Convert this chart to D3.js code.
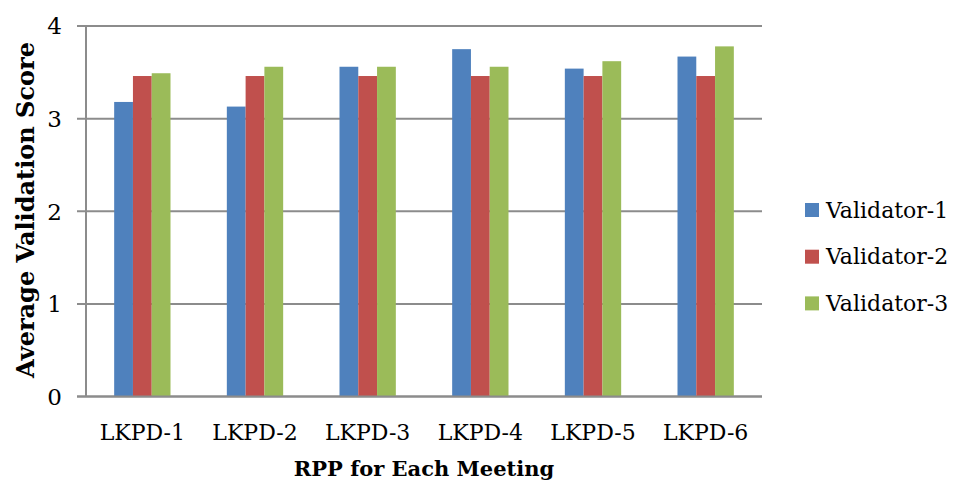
<!DOCTYPE html>
<html><head><meta charset="utf-8">
<script src="https://cdn.jsdelivr.net/npm/d3@7"></script>
<style>body{margin:0;background:#fff;} text{font-family:"DejaVu Serif","Liberation Serif",serif;}</style>
</head><body><svg id="c" width="956" height="484"></svg>
<script>
const categories = ["LKPD-1","LKPD-2","LKPD-3","LKPD-4","LKPD-5","LKPD-6"];
const seriesNames = ["Validator-1","Validator-2","Validator-3"];
const validator1 = [3.18,3.13,3.56,3.75,3.54,3.67];
const validator2 = [3.46,3.46,3.46,3.46,3.46,3.46];
const validator3 = [3.49,3.56,3.56,3.56,3.62,3.78];
const yTicks = [0,1,2,3,4];
const colors = ["#4f81bd","#c0504d","#9bbb59"];
const series = [validator1, validator2, validator3];

(function(){
const svg = d3.select("#c");
const pL = 86, pR = 762, pT = 26, pB = 396.5;
const x = d3.scaleBand().domain(categories).range([pL, pR]).paddingInner(0.5).paddingOuter(0.25);
const xs = d3.scaleBand().domain(seriesNames).range([0, x.bandwidth()]);
const y = d3.scaleLinear().domain([0,4]).range([pB, pT]);

svg.append("g").selectAll("line").data(yTicks).join("line")
  .attr("x1", 77).attr("x2", pR).attr("y1", d=>y(d)).attr("y2", d=>y(d))
  .attr("stroke", "#8c8c8c").attr("stroke-width", 2);
svg.append("line").attr("x1", pL).attr("x2", pL).attr("y1", pT).attr("y2", pB)
  .attr("stroke", "#8c8c8c").attr("stroke-width", 2);

series.forEach((vals, si) => {
  svg.append("g").selectAll("rect").data(vals).join("rect")
    .attr("x", (d,i)=> x(categories[i]) + xs(seriesNames[si]))
    .attr("width", xs.bandwidth())
    .attr("y", d=>y(d)).attr("height", d=>y(0)-y(d))
    .attr("fill", colors[si]);
});
svg.append("line").attr("x1", 77).attr("x2", pR).attr("y1", y(0)).attr("y2", y(0))
  .attr("stroke", "#8c8c8c").attr("stroke-width", 2);

svg.append("g").selectAll("text").data(yTicks).join("text")
  .attr("x", 62).attr("y", d=>y(d)).attr("dy", "0.36em").attr("text-anchor","end")
  .attr("font-size", 23).attr("fill","#000").text(d=>d);
svg.append("g").selectAll("text").data(categories).join("text")
  .attr("x", d=>x(d)+x.bandwidth()/2).attr("y", 440).attr("text-anchor","middle")
  .attr("font-size", 22).attr("fill","#000").text(d=>d);

svg.append("text").attr("x", 424).attr("y", 476).attr("text-anchor","middle")
  .attr("font-size", 21).attr("font-weight","bold").text("RPP for Each Meeting");
svg.append("text").attr("transform","translate(34,210) rotate(-90)").attr("text-anchor","middle")
  .attr("font-size", 24).attr("font-weight","bold").text("Average Validation Score");

const lg = svg.append("g").selectAll("g").data(seriesNames).join("g")
  .attr("transform", (d,i)=>`translate(805,${210 + i*46.7})`);
lg.append("rect").attr("x",0).attr("y",-7).attr("width",14).attr("height",14).attr("fill",(d,i)=>colors[i]);
lg.append("text").attr("x",21).attr("y",0).attr("dy","0.35em").attr("font-size",22).text(d=>d);
})();
</script></body></html>
